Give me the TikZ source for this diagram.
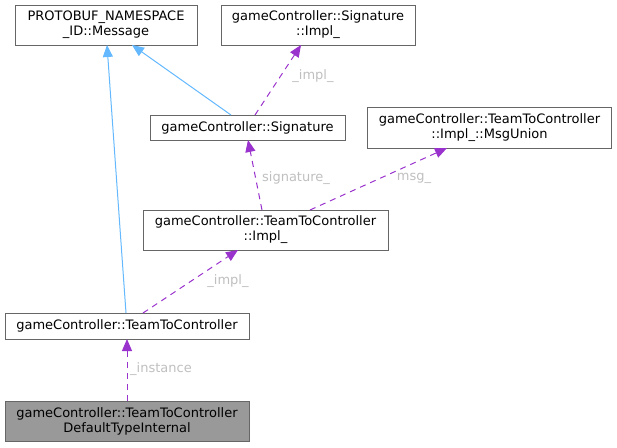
\documentclass[tikz,border=0pt]{standalone}
\usepackage{fontspec}
\setmainfont{DejaVu Sans}
\usetikzlibrary{arrows.meta}
\definecolor{inh}{HTML}{63B8FF}
\definecolor{use}{HTML}{9A32CD}
\definecolor{lbl}{HTML}{BFBFBF}
\definecolor{brd}{HTML}{666666}
\tikzset{
  cls/.style={draw=brd, line width=1pt, fill=white, inner sep=0pt, align=center, font=\fontsize{13}{15}\selectfont},
  inhedge/.style={draw=inh, line width=1pt, -{Triangle[length=12pt,width=10pt,fill=inh]}},
  useedge/.style={draw=use, line width=1pt, dash pattern=on 6pt off 5pt, -{Triangle[length=12pt,width=10pt,fill=use]}},
  elabel/.style={text=lbl, font=\fontsize{13}{15}\selectfont, inner sep=1pt}
}
\begin{document}
\begin{tikzpicture}[x=1pt,y=-1pt]
\useasboundingbox (0,0) rectangle (617,447);
% boxes
\node[cls, minimum width=182pt, minimum height=40pt] (pb) at (106,25) {PROTOBUF\_NAMESPACE\\\_ID::Message};
\node[cls, minimum width=194pt, minimum height=40pt] (sigimpl) at (318,25) {gameController::Signature\\::Impl\_};
\node[cls, minimum width=195pt, minimum height=25pt] (sig) at (247.5,127.5) {gameController::Signature};
\node[cls, minimum width=244pt, minimum height=41pt] (msgu) at (489.5,127.5) {gameController::TeamToController\\::Impl\_::MsgUnion};
\node[cls, minimum width=245pt, minimum height=40pt] (impl) at (265.5,230) {gameController::TeamToController\\::Impl\_};
\node[cls, minimum width=244pt, minimum height=26pt] (ttc) at (127,326) {gameController::TeamToController};
\node[cls, fill={rgb,255:red,153;green,153;blue,153}, minimum width=244pt, minimum height=40pt] (dti) at (127,421) {gameController::TeamToController\\DefaultTypeInternal};
% anchors
\coordinate (ttcA) at (126,313);
\coordinate (pbA) at (107,45);
\coordinate (sigA) at (231,115);
\coordinate (pbB) at (132,45);
\coordinate (sigB) at (255,115);
\coordinate (siA) at (301,45);
\coordinate (impA) at (262,210);
\coordinate (sigC) at (248,140);
\coordinate (impB) at (310,210);
\coordinate (muA) at (447,148);
\coordinate (ttcB) at (143,313);
\coordinate (impC) at (238,250);
\coordinate (dtiA) at (127,401);
\coordinate (ttcC) at (127,339);
% edges
\draw[inhedge] (ttcA) -- (pbA);
\draw[inhedge] (sigA) -- (pbB);
\draw[useedge] (sigB) -- (siA);
\draw[useedge] (impA) -- (sigC);
\draw[useedge] (impB) -- (muA);
\draw[useedge] (ttcB) -- (impC);
\draw[useedge] (dtiA) -- (ttcC);
% labels
\node[elabel] (l1) at (313,76) {\_impl\_};
\node[elabel] (l2) at (296,178) {signature\_};
\node[elabel] (l3) at (414,178) {msg\_};
\node[elabel] (l4) at (228,281) {\_impl\_};
\node[elabel] (l5) at (161,369) {\_instance};
\end{tikzpicture}
\end{document}
